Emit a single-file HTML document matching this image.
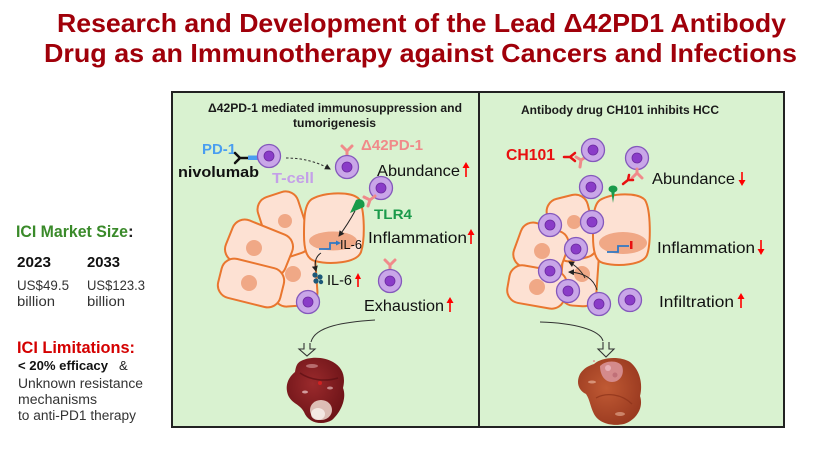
<!DOCTYPE html>
<html><head><meta charset="utf-8"><style>
html,body{margin:0;padding:0;background:#fff;}
svg{display:block;}
text{font-family:"Liberation Sans","DejaVu Sans",sans-serif;}
</style></head><body>
<svg width="816" height="450" viewBox="0 0 816 450" xmlns="http://www.w3.org/2000/svg">
<defs>
<g id="tc"><circle r="11.5" fill="#c9a6e8" stroke="#8458bc" stroke-width="1.3"/><circle r="5" fill="#8a3cc8" stroke="#6c2aa0" stroke-width="0.8"/></g>
<marker id="ah" markerWidth="6" markerHeight="6" refX="5" refY="3" orient="auto" markerUnits="userSpaceOnUse"><path d="M0,0 L6,3 L0,6 Z" fill="#222"/></marker>
<radialGradient id="lv1" cx="0.45" cy="0.4" r="0.6"><stop offset="0" stop-color="#9a2a2c"/><stop offset="1" stop-color="#6e1418"/></radialGradient>
<radialGradient id="lv2" cx="0.45" cy="0.45" r="0.6"><stop offset="0" stop-color="#c05a34"/><stop offset="1" stop-color="#9a3a20"/></radialGradient>
</defs>

<!-- Title -->
<text x="57" y="32" font-size="26" font-weight="bold" fill="#a0000a" textLength="729" lengthAdjust="spacingAndGlyphs">Research and Development of the Lead Δ42PD1 Antibody</text>
<text x="44" y="62" font-size="26" font-weight="bold" fill="#a0000a" textLength="753" lengthAdjust="spacingAndGlyphs">Drug as an Immunotherapy against Cancers and Infections</text>

<!-- Left column -->
<text x="16" y="237" font-size="17" font-weight="bold" fill="#3a8a2a" textLength="112" lengthAdjust="spacingAndGlyphs">ICI Market Size</text>
<text x="128" y="237" font-size="17" font-weight="bold" fill="#222">:</text>
<text x="17" y="267" font-size="15" font-weight="bold" fill="#111" textLength="34" lengthAdjust="spacingAndGlyphs">2023</text>
<text x="87" y="267" font-size="15" font-weight="bold" fill="#111" textLength="33" lengthAdjust="spacingAndGlyphs">2033</text>
<text x="17" y="290" font-size="14" fill="#333" textLength="52" lengthAdjust="spacingAndGlyphs">US$49.5</text>
<text x="17" y="306" font-size="14" fill="#333" textLength="38" lengthAdjust="spacingAndGlyphs">billion</text>
<text x="87" y="290" font-size="14" fill="#333" textLength="58" lengthAdjust="spacingAndGlyphs">US$123.3</text>
<text x="87" y="306" font-size="14" fill="#333" textLength="38" lengthAdjust="spacingAndGlyphs">billion</text>
<text x="17" y="353" font-size="17" font-weight="bold" fill="#d40000" textLength="118" lengthAdjust="spacingAndGlyphs">ICI Limitations:</text>
<text x="18" y="370" font-size="13" font-weight="bold" fill="#111" textLength="90" lengthAdjust="spacingAndGlyphs">&lt; 20% efficacy</text>
<text x="119" y="370" font-size="13" fill="#222">&amp;</text>
<text x="18" y="388" font-size="13.5" fill="#333" textLength="125" lengthAdjust="spacingAndGlyphs">Unknown resistance</text>
<text x="18" y="404" font-size="13.5" fill="#333" textLength="79" lengthAdjust="spacingAndGlyphs">mechanisms</text>
<text x="18" y="420" font-size="13.5" fill="#333" textLength="118" lengthAdjust="spacingAndGlyphs">to anti-PD1 therapy</text>

<!-- Panels -->
<rect x="172" y="92" width="307" height="335" fill="#d9f2d0" stroke="#222" stroke-width="2"/>
<rect x="479" y="92" width="305" height="335" fill="#d9f2d0" stroke="#222" stroke-width="2"/>

<!-- ===== LEFT PANEL ===== -->
<text x="208" y="112" font-size="11.5" font-weight="bold" fill="#1a1a1a" textLength="254" lengthAdjust="spacingAndGlyphs">Δ42PD-1 mediated immunosuppression and</text>
<text x="293" y="127" font-size="11.5" font-weight="bold" fill="#1a1a1a" textLength="83" lengthAdjust="spacingAndGlyphs">tumorigenesis</text>

<text x="202" y="154" font-size="14.5" font-weight="bold" fill="#4a9ef0" textLength="34" lengthAdjust="spacingAndGlyphs">PD-1</text>
<text x="178" y="177" font-size="15" font-weight="bold" fill="#111" textLength="81" lengthAdjust="spacingAndGlyphs">nivolumab</text>
<text x="272" y="183" font-size="15" font-weight="bold" fill="#c4a0e8" textLength="42" lengthAdjust="spacingAndGlyphs">T-cell</text>
<text x="361" y="150" font-size="15" font-weight="bold" fill="#f08a8a" textLength="62" lengthAdjust="spacingAndGlyphs">Δ42PD-1</text>

<!-- nivolumab antibody + PD-1 -->
<path d="M240,158 H248 M240,158 L235,153 M240,158 L235,163" stroke="#111" stroke-width="2.5" fill="none" stroke-linecap="round"/>
<rect x="248" y="155.5" width="10" height="4.5" fill="#4a9ef0"/>
<use href="#tc" x="269" y="156"/>

<!-- dashed arrow -->
<path d="M286,158 Q310,158 330,169" stroke="#333" stroke-width="1" fill="none" stroke-dasharray="2.5,2" marker-end="url(#ah)"/>

<!-- T-cell 2 with receptor -->
<path d="M347,156 V151 M347,151 L342,146 M347,151 L352,146" stroke="#f08a8a" stroke-width="3" fill="none" stroke-linecap="round"/>
<use href="#tc" x="347" y="167"/>

<text x="377" y="176" font-size="16" fill="#111" textLength="83" lengthAdjust="spacingAndGlyphs">Abundance</text>
<path d="M466,177 V167" stroke="#f00" stroke-width="1.6"/><path d="M462.5,168 L466,162 L469.5,168 Z" fill="#f00"/>

<!-- cells cluster left -->
<g fill="#fde1d3" stroke="#e9762f" stroke-width="2">
<rect x="272" y="238" width="44" height="68" rx="13" transform="rotate(-4 294 272)"/>
<rect x="263" y="193" width="42" height="64" rx="13" transform="rotate(-18 284 225)"/>
<rect x="227" y="226" width="64" height="44" rx="13" transform="rotate(22 259 248)"/>
<rect x="219" y="263" width="64" height="40" rx="13" transform="rotate(14 251 283)"/>
<path d="M312,199 C325,192 352,191 359,199 C365,210 365,240 361,252 C357,263 330,265 315,261 C306,259 304,248 304,235 C304,220 304,204 312,199 Z"/>
</g>
<g fill="#f0a886">
<circle cx="293" cy="274" r="8"/>
<circle cx="285" cy="221" r="7"/>
<circle cx="254" cy="248" r="8"/>
<circle cx="249" cy="283" r="8"/>
<ellipse cx="333" cy="241" rx="24" ry="9.5"/>
</g>
<!-- gene -->
<path d="M319,249 H330 V243 H337" stroke="#2f78c4" stroke-width="1.8" fill="none"/>
<path d="M336,240.5 L341,243 L336,245.5 Z" fill="#2f78c4"/>
<text x="340" y="249" font-size="13" fill="#111" textLength="22" lengthAdjust="spacingAndGlyphs">IL-6</text>

<!-- TLR4 and receptor -->
<use href="#tc" x="381" y="188"/>
<path d="M375,196 L370,200 M370,200 L364,197 M370,200 L368,206" stroke="#f08a8a" stroke-width="3" fill="none" stroke-linecap="round"/>
<path d="M350,213 L356,200 A5.5,5.5 0 0 1 364,207 Z" fill="#1a9a4a"/>
<text x="374" y="219" font-size="14" font-weight="bold" fill="#1a9a4a" textLength="38" lengthAdjust="spacingAndGlyphs">TLR4</text>
<path d="M355,211 Q348,224 339,236" stroke="#222" stroke-width="1" fill="none" marker-end="url(#ah)"/>

<text x="368" y="243" font-size="16" fill="#111" textLength="99" lengthAdjust="spacingAndGlyphs">Inflammation</text>
<path d="M471,244 V234" stroke="#f00" stroke-width="1.6"/><path d="M467.5,235 L471,229 L474.5,235 Z" fill="#f00"/>

<!-- IL-6 secretion -->
<path d="M321,253 Q313,258 316,271" stroke="#222" stroke-width="1" fill="none" marker-end="url(#ah)"/>
<g fill="#1d5878"><circle cx="315" cy="275" r="2.6"/><circle cx="320" cy="277" r="2.6"/><circle cx="316" cy="281" r="2.6"/><circle cx="321" cy="282" r="2.2"/></g>
<text x="327" y="285" font-size="15" fill="#111" textLength="25" lengthAdjust="spacingAndGlyphs">IL-6</text>
<path d="M358,287 V278" stroke="#f00" stroke-width="1.6"/><path d="M355,279 L358,273 L361,279 Z" fill="#f00"/>

<use href="#tc" x="308" y="302"/>
<path d="M390,269 V265 M390,265 L385,260 M390,265 L395,260" stroke="#f08a8a" stroke-width="3" fill="none" stroke-linecap="round"/>
<use href="#tc" x="390" y="281"/>

<text x="364" y="311" font-size="16" fill="#111" textLength="80" lengthAdjust="spacingAndGlyphs">Exhaustion</text>
<path d="M450,312 V302" stroke="#f00" stroke-width="1.6"/><path d="M446.5,303 L450,297 L453.5,303 Z" fill="#f00"/>

<!-- curve to tumor -->
<path d="M375,320 C345,322 315,326 311,342" stroke="#333" stroke-width="1" fill="none"/>
<path d="M304,343 V349 H299 L307,356 L315,349 H310 V343" stroke="#333" stroke-width="1.1" fill="none"/>

<!-- left liver -->
<path d="M301,361 C310,356 325,357 333,362 C342,367 346,376 343,388 C347,398 341,412 332,420 C322,426 308,423 304,412 C300,404 292,404 288,395 C284,384 290,376 295,372 C296,366 297,363 301,361 Z" fill="url(#lv1)"/>
<ellipse cx="321" cy="410" rx="11" ry="10" fill="#e8cfc6" opacity="0.9"/>
<ellipse cx="318" cy="414" rx="7" ry="6" fill="#f6ece8" opacity="0.9"/>
<path d="M300,373 C310,380 325,382 338,378" stroke="#5a0e12" stroke-width="1.5" fill="none" opacity="0.7"/>
<ellipse cx="312" cy="366" rx="6" ry="2" fill="#d8a0a0" opacity="0.6"/>
<ellipse cx="305" cy="392" rx="3" ry="1.5" fill="#f0d0d0" opacity="0.7"/>
<ellipse cx="330" cy="388" rx="3" ry="1.5" fill="#f0d0d0" opacity="0.6"/>
<circle cx="320" cy="383" r="2" fill="#e02020" opacity="0.8"/>

<!-- ===== RIGHT PANEL ===== -->
<text x="521" y="114" font-size="11.5" font-weight="bold" fill="#1a1a1a" textLength="198" lengthAdjust="spacingAndGlyphs">Antibody drug CH101 inhibits HCC</text>
<text x="506" y="160" font-size="16" font-weight="bold" fill="#e81010" textLength="49" lengthAdjust="spacingAndGlyphs">CH101</text>

<path d="M564,157 H570 M570,157 L575,153 M570,157 L575,161" stroke="#e81010" stroke-width="2.5" fill="none" stroke-linecap="round"/>
<path d="M586,157 L581,160 M581,160 L576,157 M581,160 L580,167" stroke="#f08a8a" stroke-width="3" fill="none" stroke-linecap="round"/>
<use href="#tc" x="593" y="150"/>

<use href="#tc" x="637" y="158"/>
<path d="M637,169 V173 M637,173 L632,178 M637,173 L642,178" stroke="#f08a8a" stroke-width="3" fill="none" stroke-linecap="round"/>
<path d="M623,184 L628,180 M628,180 L629,175 M628,180 L633,180" stroke="#e81010" stroke-width="2.5" fill="none" stroke-linecap="round"/>

<text x="652" y="184" font-size="16" fill="#111" textLength="83" lengthAdjust="spacingAndGlyphs">Abundance</text>
<path d="M742,172 V181" stroke="#f00" stroke-width="1.6"/><path d="M738.5,180 L742,186 L745.5,180 Z" fill="#f00"/>

<!-- right cell cluster -->
<g fill="#fde1d3" stroke="#e9762f" stroke-width="2">
<rect x="562" y="232" width="36" height="74" rx="13" transform="rotate(4 580 269)"/>
<rect x="551" y="196" width="42" height="64" rx="13" transform="rotate(-14 572 228)"/>
<rect x="516" y="226" width="50" height="46" rx="13" transform="rotate(20 541 249)"/>
<rect x="508" y="268" width="58" height="38" rx="13" transform="rotate(10 537 287)"/>
<path d="M600,200 C612,193 638,192 645,200 C651,210 651,244 647,255 C643,265 618,267 603,263 C595,261 593,250 593,236 C593,220 593,205 600,200 Z"/>
</g>
<g fill="#f0a886">
<circle cx="582" cy="274" r="8"/>
<circle cx="574" cy="222" r="7"/>
<circle cx="542" cy="251" r="8"/>
<circle cx="537" cy="287" r="8"/>
<ellipse cx="623" cy="243" rx="24" ry="11"/>
</g>
<path d="M607,252 H618 V246 H629" stroke="#2f78c4" stroke-width="1.8" fill="none"/>
<rect x="630" y="241" width="2.5" height="8" fill="#e81010"/>

<!-- green receptor right -->
<path d="M611,190 L613,203 L615,190 Z" fill="#1a9a4a"/>
<ellipse cx="613" cy="189" rx="4.5" ry="3.5" fill="#1a9a4a"/>

<text x="657" y="253" font-size="16" fill="#111" textLength="98" lengthAdjust="spacingAndGlyphs">Inflammation</text>
<path d="M761,240 V250" stroke="#f00" stroke-width="1.6"/><path d="M757.5,249 L761,255 L764.5,249 Z" fill="#f00"/>

<!-- small arrows -->
<path d="M597,290 Q592,273 569,272" stroke="#222" stroke-width="0.9" fill="none" marker-end="url(#ah)"/>
<path d="M585,278 Q580,268 569,262" stroke="#222" stroke-width="0.9" fill="none" marker-end="url(#ah)"/>

<!-- T-cells right -->
<use href="#tc" x="591" y="187"/>
<use href="#tc" x="550" y="225"/>
<use href="#tc" x="592" y="222"/>
<use href="#tc" x="576" y="249"/>
<use href="#tc" x="550" y="271"/>
<use href="#tc" x="568" y="291"/>
<use href="#tc" x="599" y="304"/>
<use href="#tc" x="630" y="300"/>

<text x="659" y="307" font-size="16" fill="#111" textLength="75" lengthAdjust="spacingAndGlyphs">Infiltration</text>
<path d="M741,308 V298" stroke="#f00" stroke-width="1.6"/><path d="M737.5,299 L741,293 L744.5,299 Z" fill="#f00"/>

<path d="M540,322 C575,323 600,330 603,341" stroke="#333" stroke-width="1" fill="none"/>
<path d="M603,342 V349 H598 L606,357 L614,349 H609 V342" stroke="#333" stroke-width="1.1" fill="none"/>

<!-- right liver -->
<path d="M594,364 C602,357 620,356 630,362 C640,370 643,384 640,396 C644,408 636,420 624,424 C610,427 598,422 594,414 C590,406 590,400 586,394 C578,390 576,382 580,374 C584,368 588,366 594,364 Z" fill="url(#lv2)"/>
<path d="M600,366 C606,360 618,360 622,366 C625,374 620,382 612,382 C604,382 600,374 600,366 Z" fill="#d48a8c"/>
<circle cx="608" cy="368" r="3" fill="#e8b0b8"/>
<circle cx="615" cy="375" r="2.5" fill="#c07078"/>
<path d="M596,398 C606,392 622,394 632,404" stroke="#8a3018" stroke-width="1.3" fill="none" opacity="0.7"/>
<ellipse cx="592" cy="382" rx="4" ry="1.5" fill="#f0c0a8" opacity="0.6"/>
<ellipse cx="620" cy="414" rx="5" ry="2" fill="#e8b098" opacity="0.6"/>
<circle cx="594" cy="361" r="0.8" fill="#e06070"/>
</svg>
</body></html>
